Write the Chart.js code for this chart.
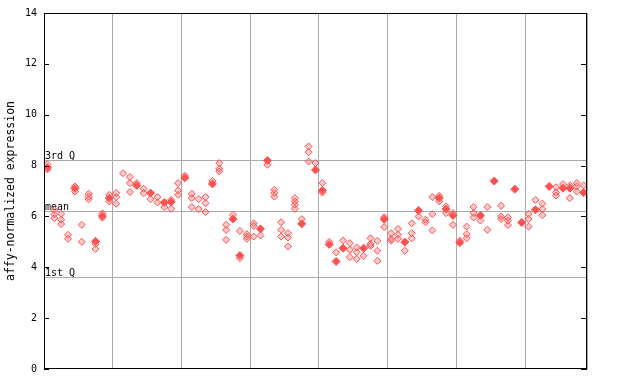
<!DOCTYPE html>
<html>
<head>
<meta charset="utf-8">
<script src="https://cdn.jsdelivr.net/npm/chart.js@4"></script>
<style>
html,body{margin:0;padding:0;background:#fff;}
canvas{display:block;}
</style>
</head>
<body>
<canvas id="c" width="640" height="384"></canvas>
<script>
// one entry per sample column (x = index + 0.5)
const openValues = [
  [8.05,7.85],[6.25,6.08,5.93],[6.1,5.87,5.7],[5.28,5.12],[7.18,6.98],
  [5.67,5.0],[6.89,6.78,6.68],[4.92,4.72],[6.12,5.95],[6.85,6.59],
  [6.92,6.76,6.5],[7.7],[7.55,7.31,6.96],[7.31],[7.09,6.92],
  [6.68],[6.76,6.55],[6.37],[6.65,6.3],[7.31,7.02,6.85],
  [7.6],[6.89,6.72,6.37],[6.68,6.29],[6.76,6.52,6.17],[7.4],
  [8.1,7.87,7.77],[5.67,5.47,5.08],[6.06],[5.43,4.36],[5.3,5.21,5.12],
  [5.73,5.63,5.21],[5.25],[8.03],[7.05,6.92,6.78],[5.77,5.47,5.21],
  [5.34,5.17,4.82],[6.72,6.59,6.46,6.3],[5.89],[8.75,8.53,8.16],[8.1],
  [7.31,6.94],[5.0],[4.59],[5.05],[4.95,4.69,4.4],
  [4.78,4.59,4.33],[4.45],[5.14,4.92,4.84],[5.04,4.65,4.25],[5.97,5.58],
  [5.34,5.12,5.05],[5.51,5.28,5.12],[4.65],[5.73,5.34,5.14],[6.0],
  [5.87,5.77],[6.76,6.09,5.45],[6.81,6.59],[6.39,6.13],[6.13,5.67],
  [5.04],[5.6,5.3,5.14],[6.37,6.13,5.96],[5.84],[6.37,5.47],
  [],[6.42,6.0,5.9],[5.96,5.83,5.66],[],[],
  [6.1,5.9,5.6],[6.65],[6.5,6.29,6.05],[],[7.15,6.94,6.82],
  [7.27],[7.22,6.72],[7.31,7.18,6.98],[7.22]
];
const filledValues = [
  7.92,null,null,null,7.1,null,null,5.02,6.02,6.72,
  null,null,null,7.22,null,6.92,null,6.55,6.57,null,
  7.52,null,null,null,7.28,null,null,5.9,4.46,null,
  null,5.51,8.2,null,null,null,null,5.71,null,7.83,
  7.02,4.9,4.23,4.75,null,null,4.75,null,null,5.89,
  null,null,4.99,null,6.23,null,null,6.72,6.29,6.04,
  4.97,null,null,6.04,null,7.39,null,null,7.07,5.76,
  null,6.26,null,7.18,null,7.11,7.11,null,6.94
];
const quartileLines = [
  {label: '3rd Q', value: 8.2},
  {label: 'mean', value: 6.21},
  {label: '1st Q', value: 3.62}
];
const yTicks = [0,2,4,6,8,10,12,14];
const groupSize = 10;

const openPts = [];
openValues.forEach((arr, i) => arr.forEach(v => openPts.push({x: i + 0.5, y: v})));
const filledPts = [];
filledValues.forEach((v, i) => { if (v !== null) filledPts.push({x: i + 0.5, y: v}); });

const MONO = '"DejaVu Sans Mono", "Liberation Mono", monospace';
const RED = '#ff5050';

const overlay = {
  id: 'overlay',
  beforeDatasetsDraw(chart) {
    const {ctx, chartArea: a, scales: {y}} = chart;
    ctx.save();
    ctx.strokeStyle = '#aaaaaa';
    ctx.lineWidth = 1;
    ctx.font = '10px ' + MONO;
    ctx.fillStyle = '#000';
    ctx.textAlign = 'left';
    ctx.textBaseline = 'alphabetic';
    quartileLines.forEach(q => {
      const py = Math.round(y.getPixelForValue(q.value)) + 0.5;
      ctx.beginPath();
      ctx.moveTo(a.left, py);
      ctx.lineTo(a.right, py);
      ctx.stroke();
      ctx.fillText(q.label, a.left + 1, py - 1.5);
    });
    ctx.restore();
  },
  afterDraw(chart) {
    const {ctx, chartArea: a, scales: {y}} = chart;
    ctx.save();
    ctx.strokeStyle = '#000';
    ctx.lineWidth = 1;
    ctx.strokeRect(Math.round(a.left) + 0.5, Math.round(a.top) + 0.5,
      Math.round(a.right - a.left) - 1, Math.round(a.bottom - a.top) - 1);
    yTicks.forEach(t => {
      const py = Math.round(y.getPixelForValue(t)) + 0.5;
      ctx.beginPath();
      ctx.moveTo(a.left, py); ctx.lineTo(a.left + 5, py);
      ctx.moveTo(a.right, py); ctx.lineTo(a.right - 6, py);
      ctx.stroke();
    });
    ctx.restore();
  }
};

new Chart(document.getElementById('c'), {
  type: 'scatter',
  data: {
    datasets: [
      {
        data: openPts,
        pointStyle: 'rectRot',
        pointRadius: 3.5,
        pointBorderWidth: 1,
        pointBorderColor: RED,
        pointBackgroundColor: 'rgba(255,110,110,0.35)'
      },
      {
        data: filledPts,
        pointStyle: 'rectRot',
        pointRadius: 4,
        pointBorderWidth: 1,
        pointBorderColor: RED,
        pointBackgroundColor: RED
      }
    ]
  },
  options: {
    responsive: false,
    devicePixelRatio: 1,
    animation: false,
    layout: {padding: {top: 13, right: 53, bottom: 15, left: 0}},
    plugins: {legend: {display: false}, tooltip: {enabled: false}},
    scales: {
      x: {
        type: 'linear',
        min: 0,
        max: openValues.length,
        ticks: {display: false, stepSize: groupSize},
        grid: {color: '#aaaaaa', drawTicks: false, lineWidth: 1},
        border: {display: false},
        afterFit(s) { s.height = 0; }
      },
      y: {
        min: 0,
        max: 14,
        ticks: {
          stepSize: 2,
          padding: 7,
          color: '#000',
          font: {family: MONO, size: 10}
        },
        grid: {display: false, drawTicks: false},
        border: {display: false},
        title: {
          display: true,
          text: 'affy-normalized expression',
          color: '#000',
          font: {family: MONO, size: 11.5},
          padding: {top: 4, bottom: 0}
        },
        afterFit(s) { s.width = 44; }
      }
    }
  },
  plugins: [overlay]
});
</script>
</body>
</html>
